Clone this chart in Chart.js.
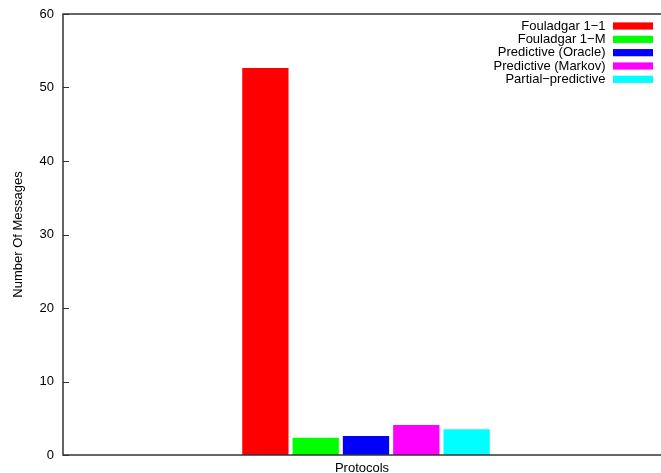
<!DOCTYPE html>
<html>
<head>
<meta charset="utf-8">
<script src="https://cdn.jsdelivr.net/npm/chart.js@4/dist/chart.umd.min.js"></script>
<style>
html,body{margin:0;padding:0;background:#fff;overflow:hidden;}
#wrap{width:661px;height:473px;position:relative;}
</style>
</head>
<body>
<div id="wrap"><canvas id="c" width="661" height="473"></canvas></div>
<script>
// ---- data ----
const seriesNames = ['Fouladgar 1\u22121', 'Fouladgar 1\u2212M', 'Predictive (Oracle)', 'Predictive (Markov)', 'Partial\u2212predictive'];
const seriesValues = [52.65, 2.36, 2.58, 4.08, 3.49];
const seriesColors = ['#ff0000', '#00ff00', '#0000ff', '#ff00ff', '#00ffff'];
const yTicks = [0, 10, 20, 30, 40, 50, 60];
const xTitle = 'Protocols';
const yTitle = 'Number Of Messages';

const FONT = "'Liberation Sans', Arial, Helvetica, sans-serif";
const AXIS_COLOR = '#333333';

const datasets = seriesNames.map((n, i) => ({
  label: n,
  data: [{x: 0, y: seriesValues[i]}],
  backgroundColor: seriesColors[i],
  borderWidth: 0,
  categoryPercentage: 0.4206,
  barPercentage: 0.92
}));

const framePlugin = {
  id: 'frame',
  afterDraw(chart) {
    const ctx = chart.ctx;
    const a = chart.chartArea;
    const ys = chart.scales.y;
    ctx.save();
    ctx.strokeStyle = AXIS_COLOR;
    ctx.lineWidth = 1.5;
    ctx.beginPath();
    ctx.moveTo(a.right + 2, a.top); ctx.lineTo(a.left, a.top);
    ctx.lineTo(a.left, a.bottom); ctx.lineTo(a.right + 2, a.bottom);
    ctx.stroke();
    // inward ticks
    ctx.lineWidth = 1;
    ctx.beginPath();
    yTicks.forEach(v => {
      const p = Math.round(ys.getPixelForValue(v)) + 0.5;
      ctx.moveTo(a.left, p); ctx.lineTo(a.left + 6, p);
    });
    ctx.stroke();
    // legend
    ctx.font = '13px ' + FONT;
    ctx.textAlign = 'right';
    ctx.textBaseline = 'middle';
    chart.data.datasets.forEach((ds, i) => {
      const cy = 26 + i * 13.33;
      ctx.fillStyle = '#000';
      ctx.fillText(ds.label, 605.5, cy);
      ctx.fillStyle = ds.backgroundColor;
      ctx.fillRect(613, cy - 3.6, 40, 7.2);
    });
    ctx.restore();
  }
};

new Chart(document.getElementById('c'), {
  type: 'bar',
  data: { datasets },
  options: {
    responsive: false,
    animation: false,
    devicePixelRatio: 1,
    layout: { padding: { top: 14, right: 0, left: 0, bottom: 0 } },
    plugins: { legend: { display: false }, tooltip: { enabled: false } },
    scales: {
      x: {
        type: 'linear',
        min: -1,
        max: 0.9736,
        afterBuildTicks(scale) { scale.ticks = []; },
        ticks: { display: false },
        grid: { display: false, drawTicks: false },
        border: { display: false },
        title: {
          display: true, text: xTitle, color: '#000',
          font: { family: FONT, size: 13, lineHeight: 1.2 },
          padding: { top: 2, bottom: -3 }
        },
        afterFit(scale) { scale.height = 18; scale.paddingLeft = 0; scale.paddingRight = 0; }
      },
      y: {
        min: 0, max: 60,
        afterBuildTicks(scale) { scale.ticks = yTicks.map(v => ({ value: v })); },
        ticks: { color: '#000', padding: 9, font: { family: FONT, size: 13 } },
        grid: { display: false, drawTicks: false },
        border: { display: false },
        title: {
          display: true, text: yTitle, color: '#000',
          font: { family: FONT, size: 13, lineHeight: 1.2 },
          padding: { top: 11, bottom: 0 }
        },
        afterFit(scale) { scale.width = 63; scale.paddingTop = 0; scale.paddingBottom = 0; }
      }
    }
  },
  plugins: [framePlugin]
});
</script>
</body>
</html>
